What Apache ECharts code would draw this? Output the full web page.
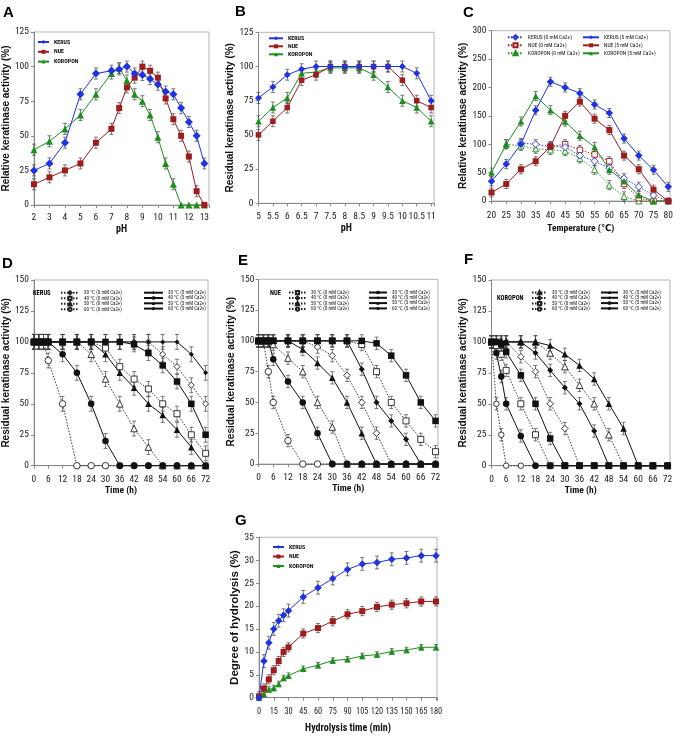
<!DOCTYPE html>
<html>
<head>
<meta charset="utf-8">
<script src="https://cdn.jsdelivr.net/npm/echarts/dist/echarts.min.js"></script>
<style>
  html, body { margin: 0; padding: 0; background: #fff; }
  #main { width: 676px; height: 739px; }
</style>
</head>
<body>
<div id="main"></div>
<script>
// ---- data ----
// A: pH optimum
var phA = [2, 3, 4, 5, 6, 7, 7.5, 8, 8.5, 9, 9.5, 10, 10.5, 11, 11.5, 12, 12.5, 13];
var kerusA = [25, 30, 45, 80, 95, 97, 98, 100, 95, 94, 91, 87, 82, 80, 70, 60, 50, 30];
var nueA = [15, 20, 25, 30, 45, 55, 70, 85, 92, 100, 97, 92, 77, 62, 50, 35, 10, 0];
var koroponA = [40, 46, 55, 65, 80, 95, 99, 90, 80, 75, 65, 49, 30, 15, 0, 0, 0, 0];

// B: pH stability
var phB = [5, 5.5, 6, 6.5, 7, 7.5, 8, 8.5, 9, 9.5, 10, 10.5, 11];
var kerusB = [77, 85, 94, 98, 100, 100, 100, 100, 100, 100, 100, 95, 75];
var nueB = [50, 60, 70, 90, 94, 100, 100, 100, 100, 100, 90, 75, 70];
var koroponB = [60, 70, 77, 95, 96, 99, 99, 99, 94, 85, 75, 70, 60];

// C: temperature optimum
var tempC = [20, 25, 30, 35, 40, 45, 50, 55, 60, 65, 70, 75, 80];
var kerus0C = [null, null, 102, 100, 96, 95, 80, 70, 58, 40, 25, 10, 0];
var nue0C = [null, null, null, null, 96, 100, 90, 82, 70, 30, 5, 0, 0];
var koropon0C = [null, 100, 97, 92, 90, 88, 75, 55, 28, 8, 0, 0, 0];
var kerus5C = [35, 65, 100, 160, 210, 200, 190, 170, 155, 110, 80, 55, 25];
var nue5C = [15, 30, 56, 70, 96, 150, 175, 145, 125, 80, 56, 20, 0];
var koropon5C = [50, 100, 140, 185, 160, 140, 115, 95, 55, 35, 10, 0, 0];

// D-F: thermal stability (time in h)
var timeH = [0, 2, 4, 6, 12, 18, 24, 30, 36, 42, 48, 54, 60, 66, 72];
var d30_0 = [100, 100, 100, 100, 100, 100, 100, 100, 100, 100, 100, 90, 80, 65, 50];
var d40_0 = [100, 100, 100, 100, 100, 100, 100, 95, 80, 70, 62, 50, 42, 25, 10];
var d50_0 = [100, 100, 100, 100, 100, 100, 90, 70, 50, 30, 15, 0, 0, 0, 0];
var d60_0 = [100, 100, 100, 85, 50, 0, 0, 0, 0, 0, 0, 0, 0, 0, 0];
var d30_5 = [100, 100, 100, 100, 100, 100, 100, 100, 100, 100, 100, 100, 100, 90, 75];
var d40_5 = [100, 100, 100, 100, 100, 100, 100, 100, 100, 98, 91, 81, 68, 50, 25];
var d50_5 = [100, 100, 100, 100, 100, 100, 100, 90, 75, 63, 50, 41, 29, 15, 0];
var d60_5 = [100, 100, 100, 100, 90, 75, 50, 20, 0, 0, 0, 0, 0, 0, 0];

var e30_0 = [100, 100, 100, 100, 100, 100, 100, 100, 100, 97, 75, 50, 35, 20, 10];
var e40_0 = [100, 100, 100, 100, 100, 100, 95, 88, 72, 50, 25, 0, 0, 0, 0];
var e50_0 = [100, 100, 100, 97, 86, 75, 50, 30, 0, 0, 0, 0, 0, 0, 0];
var e60_0 = [100, 100, 75, 50, 19, 0, 0, 0, 0, 0, 0, 0, 0, 0, 0];
var e30_5 = [100, 100, 100, 100, 100, 100, 100, 100, 100, 100, 98, 88, 72, 50, 35];
var e40_5 = [100, 100, 100, 100, 100, 100, 100, 100, 100, 77, 50, 35, 20, 0, 0];
var e50_5 = [100, 100, 100, 100, 100, 93, 82, 70, 50, 25, 0, 0, 0, 0, 0];
var e60_5 = [100, 100, 100, 85, 67, 50, 25, 0, 0, 0, 0, 0, 0, 0, 0];

var f30_0 = [100, 100, 100, 100, 100, 100, 91, 80, 65, 50, 25, 0, 0, 0, 0];
var f40_0 = [100, 100, 100, 100, 88, 76, 50, 30, 0, 0, 0, 0, 0, 0, 0];
var f50_0 = [100, 97, 90, 77, 50, 25, 0, 0, 0, 0, 0, 0, 0, 0, 0];
var f60_0 = [100, 50, 25, 0, 0, 0, 0, 0, 0, 0, 0, 0, 0, 0, 0];
var f30_5 = [100, 100, 100, 100, 100, 100, 97, 90, 81, 70, 50, 30, 0, 0, 0];
var f40_5 = [100, 100, 100, 100, 100, 91, 77, 63, 50, 28, 0, 0, 0, 0, 0];
var f50_5 = [100, 100, 98, 92, 73, 50, 22, 0, 0, 0, 0, 0, 0, 0, 0];
var f60_5 = [100, 91, 72, 50, 24, 0, 0, 0, 0, 0, 0, 0, 0, 0, 0];

// G: degree of hydrolysis
var timeG = [0, 5, 10, 15, 20, 25, 30, 45, 60, 75, 90, 105, 120, 135, 150, 165, 180];
var kerusG = [0, 8, 12, 15, 16.8, 18, 19, 22, 24, 26, 28, 29.2, 29.5, 30.2, 30.5, 31, 31];
var nueG = [0.3, 2, 4, 6, 8, 10, 11, 14, 15.2, 16.7, 18.2, 18.9, 19.8, 20.3, 20.6, 21, 21];
var koroponG = [0, 0.8, 1.8, 2.1, 3, 4.3, 4.8, 6.3, 7.1, 8.1, 8.4, 9.1, 9.4, 10.1, 10.4, 11, 11];

// rough size of the error bars in each panel
var errA = 4, errB = 4, errC = 8, errD = 6, errE = 5, errF = 5;
var errG = [1.4, 1.0, 0.6];

var tempNames = ['30 ℃', '40 ℃', '50 ℃', '60 ℃'];

// ---- helpers ----
var NARROW = '"Roboto Condensed", "DejaVu Sans Condensed", sans-serif';
var BOLD = '"Liberation Sans", Arial, sans-serif';
var BLUE = '#1f34e0', RED = '#9e1c1c', GREEN = '#1e8e1e', BLACK = '#111';

function pts(xs, ys) {
  return xs.map(function (x, i) { return [x, ys[i]]; });
}

function lineS(name, gi, xs, ys, color, symbol, size, open, dotted) {
  return {
    name: name, type: 'line', xAxisIndex: gi, yAxisIndex: gi,
    data: pts(xs, ys), clip: false, z: 3,
    symbol: symbol, symbolSize: size,
    lineStyle: { color: color, width: dotted ? 0.9 : 1, type: dotted ? [1.5, 1.5] : 'solid' },
    itemStyle: { color: open ? '#fff' : color, borderColor: color, borderWidth: open ? 0.9 : 0 },
    emphasis: { disabled: true }
  };
}

function errS(gi, xs, ys, e) {
  var d = [];
  xs.forEach(function (x, i) { if (ys[i] != null && ys[i] > 0) d.push([x, ys[i]]); });
  return {
    type: 'custom', xAxisIndex: gi, yAxisIndex: gi, z: 2, silent: true, clip: false,
    data: d, encode: { x: 0, y: 1 },
    renderItem: function (p, api) {
      var x = api.value(0), y = api.value(1);
      var a = api.coord([x, y + e]), b = api.coord([x, Math.max(0, y - e)]);
      var st = { stroke: '#444', lineWidth: 0.7 };
      return { type: 'group', children: [
        { type: 'line', shape: { x1: a[0], y1: a[1], x2: b[0], y2: b[1] }, style: st },
        { type: 'line', shape: { x1: a[0] - 2, y1: a[1], x2: a[0] + 2, y2: a[1] }, style: st },
        { type: 'line', shape: { x1: b[0] - 2, y1: b[1], x2: b[0] + 2, y2: b[1] }, style: st }
      ] };
    }
  };
}

function tickFmt(step) {
  return function (v) {
    var k = v / step;
    return Math.abs(k - Math.round(k)) < 1e-6 ? String(v) : '';
  };
}

function axis(gi, min, max, step, name, gap, margin, nameFont, nameSize, labelSize) {
  return {
    gridIndex: gi, type: 'value', min: min, max: max, interval: step,
    name: name, nameLocation: 'middle', nameGap: gap,
    nameTextStyle: { fontFamily: nameFont, fontWeight: 'bold', fontSize: nameSize, color: BLACK },
    axisLine: { show: true, lineStyle: { color: '#888', width: 1 } },
    axisTick: { show: true, length: 3, lineStyle: { color: '#888' } },
    splitLine: { show: false },
    axisLabel: { fontFamily: NARROW, fontSize: labelSize || 9.5, color: '#222', margin: margin, formatter: tickFmt(step) }
  };
}

function leg(names, left, top, iw, ih, gap, fs, bold) {
  return {
    data: names, left: left, top: top, orient: 'vertical', padding: 0,
    itemWidth: iw, itemHeight: ih, itemGap: gap, selectedMode: false,
    textStyle: { fontFamily: NARROW, fontSize: fs, fontWeight: bold ? 'bold' : 'normal', color: BLACK }
  };
}

function letter(t, left, top, size, font) {
  return { text: t, left: left, top: top, padding: 0,
    textStyle: { fontFamily: font || BOLD, fontWeight: 'bold', fontSize: size, color: '#000' } };
}

// ---- layout ----
var grids = [
  { left: 27.5, top: 32, width: 181.5, height: 173 },      // A
  { left: 258.5, top: 32.3, width: 175.5, height: 171 },   // B
  { left: 491.5, top: 30.7, width: 178.5, height: 170.3 }, // C
  { left: 28, top: 280, width: 180, height: 185.7 },       // D
  { left: 258.5, top: 279.3, width: 179.5, height: 184.7 },// E
  { left: 491.5, top: 280, width: 178.5, height: 185.7 },  // F
  { left: 259, top: 537.3, width: 178, height: 160.4 }     // G
].map(function (g) {
  g.show = true; g.borderColor = '#b5b5b5'; g.borderWidth = 1; g.backgroundColor = 'transparent';
  return g;
});

var xAxes = [
  axis(0, 2, 13.3, 1, 'pH', 19, 8, NARROW, 10),
  axis(1, 5, 11.1, 0.5, 'pH', 20, 8, NARROW, 10),
  axis(2, 20, 80.6, 5, 'Temperature (℃)', 23, 10, NARROW, 9.5),
  axis(3, 0, 73, 6, 'Time (h)', 19, 9, NARROW, 9.5),
  axis(4, 0, 73, 6, 'Time (h)', 19, 9, NARROW, 9.5),
  axis(5, 0, 73, 6, 'Time (h)', 19, 9, NARROW, 9.5),
  axis(6, 0, 181, 15, 'Hydrolysis time (min)', 26, 10, NARROW, 10, 8.3)
];
var yAxes = [
  axis(0, 0, 125, 25, 'Relative keratinase activity (%)', 16, 5, BOLD, 10),
  axis(1, 0, 125, 25, 'Residual keratinase activity (%)', 16, 5, BOLD, 10),
  axis(2, 0, 300, 50, 'Relative keratinase activity (%)', 14, 5, BOLD, 10),
  axis(3, 0, 150, 25, 'Residual keratinase activity (%)', 16, 5, BOLD, 10),
  axis(4, 0, 150, 25, 'Residual keratinase activity (%)', 14, 4, BOLD, 10),
  axis(5, 0, 150, 25, 'Residual keratinase activity (%)', 15, 5, BOLD, 10),
  axis(6, 0, 35, 5, 'Degree of hydrolysis (%)', 13, 5, BOLD, 11.5)
];

var series = [];
function add3(gi, xs, k, n, ko, e, sfx, sizes) {
  var es = Array.isArray(e) ? e : [e, e, e];
  series.push(errS(gi, xs, k, es[0]), errS(gi, xs, n, es[1]), errS(gi, xs, ko, es[2]));
  series.push(lineS('KOROPON' + sfx, gi, xs, ko, GREEN, 'triangle', sizes[2], false, false));
  series.push(lineS('NUE' + sfx, gi, xs, n, RED, 'rect', sizes[1], false, false));
  series.push(lineS('KERUS' + sfx, gi, xs, k, BLUE, 'diamond', sizes[0], false, false));
}
add3(0, phA, kerusA, nueA, koroponA, errA, '', [8, 6, 7]);
add3(1, phB, kerusB, nueB, koroponB, errB, '\u200b', [7, 5.5, 6.5]);
add3(6, timeG, kerusG, nueG, koroponG, errG, '\u200b\u200b', [7.5, 6, 6.5]);

// C
var cNames = ['KERUS (0 mM Ca2+)', 'NUE (0 mM Ca2+)', 'KOROPON (0 mM Ca2+)',
              'KERUS (5 mM Ca2+)', 'NUE (5 mM Ca2+)', 'KOROPON (5 mM Ca2+)'];
[kerus0C, nue0C, koropon0C, kerus5C, nue5C, koropon5C].forEach(function (ys) {
  series.push(errS(2, tempC, ys, errC));
});
series.push(lineS(cNames[2], 2, tempC, koropon0C, GREEN, 'triangle', 6, true, true));
series.push(lineS(cNames[1], 2, tempC, nue0C, RED, 'rect', 5.5, true, true));
series.push(lineS(cNames[0], 2, tempC, kerus0C, BLUE, 'diamond', 7, true, true));
series.push(lineS(cNames[5], 2, tempC, koropon5C, GREEN, 'triangle', 6.5, false, false));
series.push(lineS(cNames[4], 2, tempC, nue5C, RED, 'rect', 6, false, false));
series.push(lineS(cNames[3], 2, tempC, kerus5C, BLUE, 'diamond', 7.5, false, false));

// D-F
function thermal(gi, open, filled, syms0, syms5, e, sfx) {
  var n0 = [], n5 = [];
  open.forEach(function (ys) { series.push(errS(gi, timeH, ys, e)); });
  filled.forEach(function (ys) { series.push(errS(gi, timeH, ys, e)); });
  open.forEach(function (ys, i) {
    var nm = tempNames[i] + ' (0 mM Ca2+)' + sfx;
    n0.push(nm);
    series.push(lineS(nm, gi, timeH, ys, '#222', syms0[i][0], syms0[i][1], true, true));
  });
  filled.forEach(function (ys, i) {
    var nm = tempNames[i] + ' (5 mM Ca2+)' + sfx;
    n5.push(nm);
    series.push(lineS(nm, gi, timeH, ys, BLACK, syms5[i][0], syms5[i][1], false, false));
  });
  return [n0, n5];
}
var legD = thermal(3, [d30_0, d40_0, d50_0, d60_0], [d30_5, d40_5, d50_5, d60_5],
  [['diamond', 6], ['rect', 6], ['triangle', 6.5], ['circle', 6.5]],
  [['diamond', 5], ['rect', 6.5], ['triangle', 6.5], ['circle', 6.5]], errD, '');
var legE = thermal(4, [e30_0, e40_0, e50_0, e60_0], [e30_5, e40_5, e50_5, e60_5],
  [['rect', 6], ['diamond', 6.5], ['triangle', 6.5], ['circle', 6.5]],
  [['rect', 6.5], ['diamond', 6], ['triangle', 6.5], ['circle', 6.5]], errE, '\u200b');
var legF = thermal(5, [f30_0, f40_0, f50_0, f60_0], [f30_5, f40_5, f50_5, f60_5],
  [['triangle', 6.5], ['diamond', 6.5], ['rect', 6], ['circle', 5.5]],
  [['triangle', 6.5], ['diamond', 6], ['rect', 6.5], ['circle', 6.5]], errF, '\u200b\u200b');

var legends = [
  leg(['KERUS', 'NUE', 'KOROPON'], 37, 39, 11, 5, 3.8, 6, true),
  leg(['KERUS\u200b', 'NUE\u200b', 'KOROPON\u200b'], 268, 35.3, 14, 5, 2, 6, true),
  leg(cNames.slice(0, 3), 507, 34.3, 15, 5, 2, 5.5, false),
  leg(cNames.slice(3), 582, 34.3, 16, 5, 2, 5.5, false),
  leg(legD[0], 60, 290.2, 18, 4, 0.3, 5, false),
  leg(legD[1], 143, 290.2, 19, 4, 0.3, 5, false),
  leg(legE[0], 288, 290, 17, 4, 0.3, 5, false),
  leg(legE[1], 368, 290, 18, 4, 0.3, 5, false),
  leg(legF[0], 531, 290, 15, 4, 0.3, 5, false),
  leg(legF[1], 600, 290, 17, 4, 0.3, 5, false),
  leg(['KERUS\u200b\u200b', 'NUE\u200b\u200b', 'KOROPON\u200b\u200b'], 272, 544, 11, 5, 3.5, 6, true)
];

var titles = [
  letter('A', 3, 5, 15), letter('B', 235, 4, 15), letter('C', 463, 5, 15),
  letter('D', 2, 256, 15), letter('E', 238, 253, 15), letter('F', 464, 252, 15),
  letter('G', 235, 513, 15),
  letter('KERUS', 33, 290, 6.5, NARROW), letter('NUE', 270, 290, 6.5, NARROW),
  letter('KOROPON', 497, 294.5, 6.5, NARROW)
];

var myChart = echarts.init(document.getElementById('main'), null, { renderer: 'canvas' });
myChart.setOption({
  animation: false,
  backgroundColor: '#fff',
  title: titles,
  legend: legends,
  grid: grids,
  xAxis: xAxes,
  yAxis: yAxes,
  series: series
});
</script>
</body>
</html>
